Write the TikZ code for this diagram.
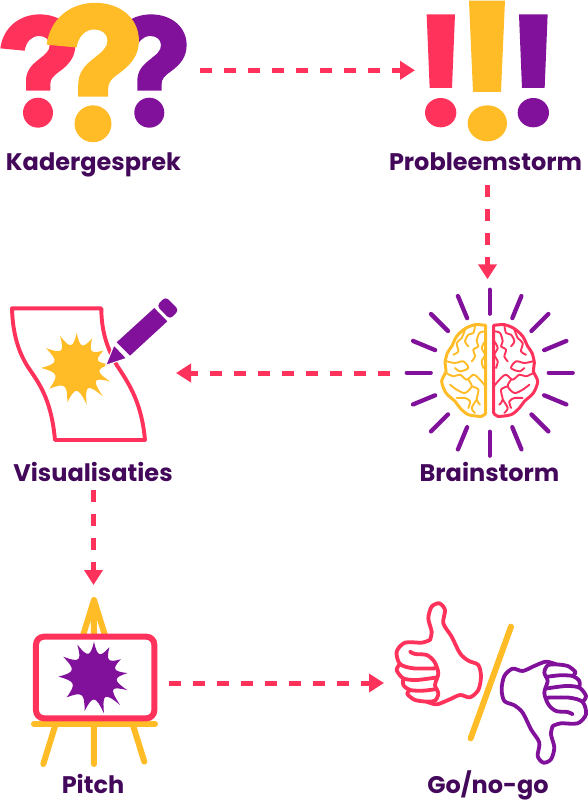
\documentclass[tikz,border=0pt]{standalone}
\usepackage{fontspec}
\setmainfont{Poppins}
\usetikzlibrary{calc, positioning, arrows.meta}

\definecolor{rose}{HTML}{FF325C}
\definecolor{amber}{HTML}{FFBC27}
\definecolor{violet}{HTML}{81119A}
\definecolor{plum}{HTML}{44085A}

\tikzset{
  zoomed/.style={x=0.3333pt,y=-0.3333pt},
  icon/.style={inner sep=0pt,outer sep=0pt,minimum width=#1},
  icon/.default=10pt,
  caption/.style={anchor=base,font=\fontsize{24}{26}\selectfont\bfseries,text=plum,inner sep=0pt},
  flow/.style={rose,line width=5pt,dash pattern=on 12pt off 12pt,-{Triangle[length=15pt,width=18pt]}},
  ray/.style={violet,line width=4.3pt,line cap=round},
  fold/.style={line width=1.9pt,line cap=round,line join=round},
}

\newcommand{\qmark}[4]{%
  \fill[#1,shift={(#2,#3)},scale=#4] (-36,0) -- (-36,-30) .. controls (-36,-60) and (-18,-78) .. (0,-92)
    .. controls (22,-110) and (35,-118) .. (35,-137) .. controls (35,-155) and (20,-164) .. (3,-164)
    .. controls (-20,-164) and (-36,-146) .. (-40,-120) -- (-113,-127)
    .. controls (-105,-190) and (-55,-229) .. (5,-229) .. controls (68,-229) and (112,-190) .. (112,-137)
    .. controls (112,-100) and (92,-78) .. (65,-58) .. controls (45,-44) and (37,-35) .. (37,-20)
    -- (37,0) -- cycle (0,66) circle (45);
}
\newcommand{\burst}[3]{%
  \fill[#1,shift={(#2,#3)},scale=0.3333] (-90:103)
    \foreach \a/\b/\r in {-76/-62/98,-47/-32/95,-18/-5/101,9/23/109,35/48/117,61/75/116,90/105/109,
      123/142/104,160/179/107,195/212/109,227/242/107,255/270/103}
    { .. controls ({\a-4}:58) and ({\a+4}:58) .. (\b:\r)} -- cycle;
}
\newcommand{\brainhalf}[1]{%
  \begin{scope}[#1,xshift=-49.67pt,zoomed]
    \draw[line width=3pt,line join=round] plot[smooth] coordinates {(137,22)(105,20)(75,32)(50,55)(35,85)(22,105)(15,135)(18,160)(5,190)(18,225)(45,250)(60,270)(85,290)(125,295)(137,285)} -- cycle;
    \draw[fold] plot[smooth] coordinates {(105,22)(100,45)(85,50)(75,70)(85,85)};
    \draw[fold] plot[smooth] coordinates {(75,35)(65,60)(50,75)(55,100)(40,110)};
    \draw[fold] plot[smooth] coordinates {(135,40)(118,45)(110,70)(115,85)(100,95)(105,115)(95,130)};
    \draw[fold] plot[smooth] coordinates {(135,70)(125,90)(135,110)(125,130)(130,150)};
    \draw[fold] plot[smooth] coordinates {(20,130)(45,135)(70,130)(85,150)(60,160)(45,150)};
    \draw[fold] plot[smooth] coordinates {(18,165)(40,175)(60,170)(80,185)(100,170)(115,180)(137,205)};
    \draw[fold] plot[smooth] coordinates {(85,185)(95,205)(75,225)(50,215)(30,200)};
    \draw[fold] plot[smooth] coordinates {(95,205)(115,215)(110,245)(120,260)};
    \draw[fold] plot[smooth] coordinates {(50,240)(75,240)(90,250)(85,270)};
    \draw[fold] plot[smooth] coordinates {(110,245)(95,270)(105,285)};
  \end{scope}
}
\newcommand{\thumb}[1]{%
  \begin{scope}[#1,line width=3.8pt,line cap=round,line join=round]
    \draw plot[smooth] coordinates {(150,150)(155,125)(145,85)(155,50)(178,40)(195,60)(190,100)(215,140)(240,190)(265,212)(295,225)(303,260)(295,300)(270,322)(240,315)(205,330)(170,343)(140,335)};
    \draw plot[smooth] coordinates {(150,150)(125,158)(75,158)(50,185)(60,222)(100,235)(165,235)};
    \draw plot[smooth] coordinates {(90,185)(105,192)(140,195)(163,215)(175,250)(165,285)(175,310)(165,332)(140,335)};
    \draw plot[smooth] coordinates {(60,222)(50,240)(70,265)(110,270)(172,262)};
    \draw plot[smooth] coordinates {(70,265)(70,285)(90,300)(130,302)(170,297)};
    \draw plot[smooth] coordinates {(90,300)(82,312)(105,330)(140,335)};
  \end{scope}
}

\begin{document}
\begin{tikzpicture}[x=1pt,y=-1pt]
\useasboundingbox (0,0) rectangle (587,809);
% Question marks
\qmark{rose}{38}{90.7}{0.3333}
\qmark{violet}{149.3}{90.7}{0.3333}
\qmark{amber}{93}{96.7}{0.41}
% Exclamation marks
\begin{scope}[shift={(380,0)},zoomed]
  \fill[rose] (140,43) -- (225,43) -- (216,264) -- (149,264) -- cycle;
  \fill[rose] (182,338) ellipse (47 and 44);
  \fill[amber] (267,2) -- (375,2) -- (363,276) -- (279,276) -- cycle;
  \fill[amber] (322,370) ellipse (59 and 54);
  \fill[violet] (417,43) -- (503,43) -- (494,264) -- (426,264) -- cycle;
  \fill[violet] (460,338) ellipse (47 and 44);
\end{scope}
% Brain with rays
\foreach \ang in {0,22.5,...,337.5}
  \draw[ray] ($(489.7,372.7)+(\ang:59)$) -- ($(489.7,372.7)+(\ang:83)$);
\brainhalf{shift={(489.7,318)},amber}
\brainhalf{shift={(489.7,318)},xscale=-1,rose}
% Paper, burst and pen
\begin{scope}[shift={(0,290)},zoomed]
  \draw[rose,line width=3.9pt,line join=round] (36,55) -- (304,55) .. controls (304,130) and (325,180) .. (350,225)
    .. controls (390,285) and (425,340) .. (435,450) -- (165,450) .. controls (155,340) and (125,290) .. (90,240)
    .. controls (55,190) and (38,130) .. (36,55) -- cycle;
\end{scope}
\burst{amber}{76.7}{367.3}
\begin{scope}[shift={(0,290)},zoomed]
  \fill[violet,draw=white,line width=1pt] (317,226) -- (342,165) -- (380,205) -- cycle;
  \fill[violet] (350,157) -- (463,54) -- (502,94) -- (390,197) -- cycle;
  \fill[violet,rounded corners=4pt] (470,47) -- (497,20) -- (537,60) -- (510,88) -- cycle;
\end{scope}
% Easel with board
\begin{scope}[shift={(20,590)},zoomed]
  \draw[amber,line width=6pt,line cap=round,line join=round] (70,522) -- (222,30) -- (373,515) (222,30) -- (222,522);
  \draw[amber,line width=6pt,line cap=round] (42,402) -- (405,402);
  \draw[rose,fill=white,line width=6pt,rounded corners=8pt] (48,140) rectangle (403,385);
\end{scope}
\burst{violet}{94}{676}
% Thumbs
\begin{scope}[shift={(380,590)},zoomed]
  \thumb{rose}
  \thumb{violet,rotate around={180:(334,279)}}
  \draw[amber,line width=6pt,line cap=round] (393,110) -- (272,445);
\end{scope}
% Labels
\node[caption] (kaderText) at (93.5,170) {Kadergesprek};
\node[caption] (probText) at (485.5,170) {Probleemstorm};
\node[caption] (brainText) at (489.5,481) {Brainstorm};
\node[caption] (visText) at (93,481) {Visualisaties};
\node[caption] (pitchText) at (93,793) {Pitch};
\node[caption] (gonogoText) at (488,793) {Go/no-go};
% Areas the arrows run between
\node[icon=200pt,minimum height=140pt] (kader) at (100,70.3) {};
\node[icon=145pt,minimum height=229.4pt] (prob) at (487.5,70.3) {};
\node[icon=199.4pt,minimum height=187.4pt] (brain) at (489.7,373) {};
\node[icon=165pt,minimum height=234pt] (vis) at (93.5,373) {};
\node[icon=151pt,minimum height=196pt] (pitch) at (93.5,683) {};
\node[icon=202pt,minimum height=196pt] (gonogo) at (485,683) {};
% Arrows
\draw[flow] (kader) -- (prob);
\draw[flow] (prob.south) -- (prob.south |- brain.north);
\draw[flow] (brain) -- (vis);
\draw[flow] (vis.south) -- (vis.south |- pitch.north);
\draw[flow] (pitch) -- (gonogo);
\end{tikzpicture}
\end{document}
